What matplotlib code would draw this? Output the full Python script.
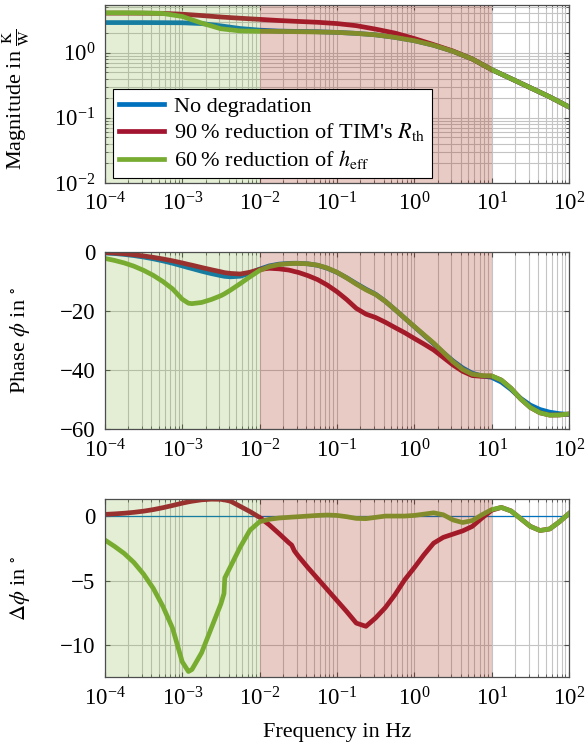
import numpy as np
import matplotlib
matplotlib.use("Agg")
import matplotlib.pyplot as plt
from matplotlib.ticker import LogLocator, FixedLocator, NullFormatter, LogFormatterMathtext

plt.rcParams['font.family'] = ['Liberation Serif', 'DejaVu Serif']
plt.rcParams['mathtext.fontset'] = 'stix'
plt.rcParams['axes.unicode_minus'] = True

# ---------------- data ----------------
series_labels = ["No degradation",
                 r"90$\;$% reduction of TIM's $R_{\mathrm{th}}$",
                 r"60$\;$% reduction of $h_{\mathrm{eff}}$"]

# magnitude (K/W), log10(frequency) grid
mag_logf = [-4.0, -3.75, -3.5, -3.25, -3.0, -2.75, -2.5, -2.25, -2.0, -1.75, -1.5, -1.25,
            -1.0, -0.75, -0.5, -0.25, 0.0, 0.25, 0.5, 0.75, 1.0, 1.25, 1.5, 1.75, 2.0]
mag_none = [2.9, 2.9, 2.9, 2.89, 2.88, 2.8, 2.58, 2.35, 2.22, 2.15, 2.12, 2.1,
            2.05, 1.98, 1.88, 1.72, 1.53, 1.3, 1.05, 0.8, 0.55, 0.4, 0.29, 0.21, 0.147]
mag_tim = [4.05, 4.05, 4.04, 4.02, 3.9, 3.72, 3.53, 3.38, 3.25, 3.12, 3.02, 2.93,
           2.8, 2.6, 2.3, 2.0, 1.65, 1.33, 1.06, 0.8, 0.55, 0.4, 0.29, 0.21, 0.147]
mag_heff = [4.1, 4.1, 4.08, 4.0, 3.6, 2.85, 2.33, 2.16, 2.13, 2.12, 2.1, 2.08,
            2.05, 1.98, 1.88, 1.72, 1.53, 1.3, 1.05, 0.8, 0.55, 0.4, 0.29, 0.21, 0.147]

# phase (deg)
ph_logf = [-4.0, -3.875, -3.75, -3.625, -3.5, -3.375, -3.25, -3.125, -3.0, -2.92, -2.875,
           -2.75, -2.625, -2.5, -2.46, -2.45, -2.375, -2.25, -2.125, -2.0, -1.875, -1.75,
           -1.625, -1.585, -1.55, -1.5, -1.375, -1.25, -1.125, -1.0, -0.875, -0.75, -0.625,
           -0.5, -0.375, -0.25, -0.125, 0.0, 0.125, 0.25, 0.375, 0.5, 0.625, 0.75, 0.875,
           1.0, 1.125, 1.25, 1.375, 1.5, 1.625, 1.75, 1.875, 2.0]
ph_none = [-0.2, -0.4, -0.7, -1.1, -1.6, -2.2, -2.9, -3.7, -4.6, -5.2, -5.5,
           -6.4, -7.2, -7.9, -8.1, -8.15, -8.3, -8.1, -7.1, -5.7, -4.6, -4.0,
           -3.75, -3.72, -3.7, -3.7, -3.9, -4.4, -5.4, -6.8, -8.6, -10.6, -12.5,
           -14.2, -16.6, -19.4, -22.3, -25.2, -28.1, -31.0, -34.0, -36.8, -39.2, -41.0, -41.9,
           -42.4, -44.0, -46.5, -49.5, -51.8, -53.3, -54.2, -54.7, -55.0]
ph_tim = [-0.07, -0.23, -0.48, -0.81, -1.22, -1.7, -2.25, -2.88, -3.6, -4.1, -4.35,
          -5.14, -5.89, -6.6, -6.85, -6.9, -7.15, -7.35, -6.75, -5.8, -5.4, -5.6,
          -6.0, -6.25, -6.5, -6.8, -7.9, -9.25, -11.1, -13.35, -16.0, -19.0, -20.95,
          -22.1, -23.7, -25.5, -27.25, -29.2, -31.1, -33.1, -35.65, -38.2, -40.35, -41.8, -42.05,
          -41.95, -43.33, -46.1, -49.7, -52.6, -54.42, -55.2, -55.15, -54.8]
ph_heff = [-2.06, -2.75, -3.6, -4.7, -6.1, -7.8, -9.9, -12.4, -15.9, -17.25, -17.4,
           -17.0, -16.0, -14.7, -14.15, -14.0, -12.8, -10.6, -8.3, -6.14, -4.85, -4.15,
           -3.85, -3.8, -3.77, -3.75, -3.9, -4.35, -5.32, -6.75, -8.65, -10.78, -12.7,
           -14.3, -16.6, -19.4, -22.3, -25.15, -27.95, -30.75, -33.9, -37.1, -39.7, -41.35, -41.8,
           -41.9, -43.33, -46.1, -49.7, -52.6, -54.42, -55.2, -55.15, -54.8]

# phase difference (deg)
dph_tim = [0.13, 0.17, 0.22, 0.29, 0.38, 0.5, 0.65, 0.82, 1.0, 1.1, 1.15,
           1.26, 1.31, 1.3, 1.25, 1.25, 1.15, 0.75, 0.35, -0.1, -0.68, -1.35,
           -2.05, -2.25, -2.7, -3.1, -4.0, -4.85, -5.7, -6.55, -7.4, -8.3, -8.55,
           -7.9, -7.1, -6.1, -4.95, -4.0, -3.0, -2.1, -1.65, -1.4, -1.15, -0.8, -0.15,
           0.45, 0.67, 0.4, -0.2, -0.8, -1.12, -1.0, -0.45, 0.2]
dph_heff = [-1.86, -2.35, -2.9, -3.6, -4.5, -5.6, -7.0, -8.7, -11.3, -12.05, -11.9,
            -10.6, -8.7, -6.8, -6.0, -4.8, -3.9, -2.4, -1.1, -0.44, -0.25, -0.15,
            -0.1, -0.08, -0.07, -0.05, 0.0, 0.05, 0.08, 0.05, -0.05, -0.18, -0.2,
            -0.1, 0.0, 0.0, 0.0, 0.05, 0.15, 0.25, 0.1, -0.3, -0.5, -0.35, 0.1,
            0.5, 0.67, 0.4, -0.2, -0.8, -1.12, -1.0, -0.45, 0.2]
dph_none = [0.0, 0.0]
dph_none_f = [1e-4, 1e2]

# shaded frequency bands
band_green = (1e-4, 1e-2)
band_red = (1e-2, 1e1)

# ---------------- style ----------------
C_BLUE = '#0072BD'
C_RED = '#A2142F'
C_GREEN = '#77AC30'
SH_GREEN = '#77AC30'
SH_RED = '#A8301A'
GRID_C = '#c4c4c4'
LW = 3.4
FS_LAB = 16
FS_TICK = 16.5
FS_LEG = 16

f_mag = [10 ** v for v in mag_logf]
f_ph = [10 ** v for v in ph_logf]

fig = plt.figure(figsize=(5.86, 7.45), dpi=100)
L, R = 0.179, 0.971
ax1 = fig.add_axes([L, 0.7544, R - L, 0.9933 - 0.7544])
ax2 = fig.add_axes([L, 0.4238, R - L, 0.6613 - 0.4238])
ax3 = fig.add_axes([L, 0.0909, R - L, 0.3298 - 0.0909])

def style(ax):
    ax.set_xscale('log')
    ax.set_xlim(1e-4, 1e2)
    ax.xaxis.set_major_locator(LogLocator(base=10, numticks=20))
    ax.xaxis.set_minor_locator(LogLocator(base=10, subs=np.arange(2, 10), numticks=20))
    ax.xaxis.set_minor_formatter(NullFormatter())
    ax.xaxis.set_major_formatter(LogFormatterMathtext())
    ax.grid(True, which='both', axis='x', color=GRID_C, lw=0.8, zorder=0)
    ax.grid(True, which='major', axis='y', color=GRID_C, lw=0.8, zorder=0)
    ax.set_axisbelow(True)
    for s in ax.spines.values():
        s.set_color('#4d4d4d')
        s.set_linewidth(0.9)
        s.set_zorder(20)
    ax.tick_params(which='both', direction='in', top=True, right=True, labelsize=FS_TICK,
                   color='#4d4d4d', pad=7)
    ax.tick_params(which='major', length=3.5)
    ax.tick_params(which='minor', length=2)
    ax.axvspan(*band_green, color=SH_GREEN, alpha=0.2, lw=0, zorder=10)
    ax.axvspan(*band_red, color=SH_RED, alpha=0.25, lw=0, zorder=10)
    ax.yaxis.set_label_coords(-0.158, 0.5)

# magnitude
h1, = ax1.plot(f_mag, mag_none, color=C_BLUE, lw=LW, zorder=3, label=series_labels[0])
h2, = ax1.plot(f_mag, mag_tim, color=C_RED, lw=LW, zorder=4, label=series_labels[1])
h3, = ax1.plot(f_mag, mag_heff, color=C_GREEN, lw=LW, zorder=5, label=series_labels[2])
ax1.set_yscale('log')
ax1.set_ylim(1e-2, 5.4)
ax1.yaxis.set_major_locator(LogLocator(base=10, numticks=10))
ax1.yaxis.set_minor_locator(LogLocator(base=10, subs=np.arange(2, 10), numticks=10))
ax1.yaxis.set_minor_formatter(NullFormatter())
ax1.yaxis.set_major_formatter(LogFormatterMathtext())
style(ax1)
ax1.grid(True, which='minor', axis='y', color=GRID_C, lw=0.8, zorder=0)
ax1.set_ylabel(r'Magnitude in $\frac{\mathrm{K}}{\mathrm{W}}$', fontsize=FS_LAB)
ax1.yaxis.set_label_coords(-0.158, 0.47)
leg = ax1.legend(loc='lower left', bbox_to_anchor=(0.017, 0.028), fontsize=FS_LEG,
                 frameon=True, fancybox=False, edgecolor='black', framealpha=1,
                 handlelength=2.0, handletextpad=0.45, borderpad=0.3, labelspacing=0.22,
                 borderaxespad=0)
leg.get_frame().set_linewidth(0.8)
leg.set_zorder(30)

# phase
ax2.plot(f_ph, ph_none, color=C_BLUE, lw=LW, zorder=3)
ax2.plot(f_ph, ph_tim, color=C_RED, lw=LW, zorder=4)
ax2.plot(f_ph, ph_heff, color=C_GREEN, lw=LW, zorder=5)
ax2.set_ylim(-60, 0)
ax2.yaxis.set_major_locator(FixedLocator([-60, -40, -20, 0]))
style(ax2)
ax2.set_ylabel(r'Phase $\phi$ in $^{\circ}$', fontsize=FS_LAB)

# phase difference
ax3.plot(dph_none_f, dph_none, color=C_BLUE, lw=0.9, zorder=3)
ax3.plot(f_ph, dph_tim, color=C_RED, lw=LW, zorder=4)
ax3.plot(f_ph, dph_heff, color=C_GREEN, lw=LW, zorder=5)
ax3.set_ylim(-12.5, 1.3)
ax3.yaxis.set_major_locator(FixedLocator([-10, -5, 0]))
style(ax3)
ax3.set_ylabel(r'$\Delta\phi$ in $^{\circ}$', fontsize=FS_LAB)
ax3.set_xlabel('Frequency in Hz', fontsize=FS_LAB, labelpad=9)

fig.savefig('out.png', dpi=100)
